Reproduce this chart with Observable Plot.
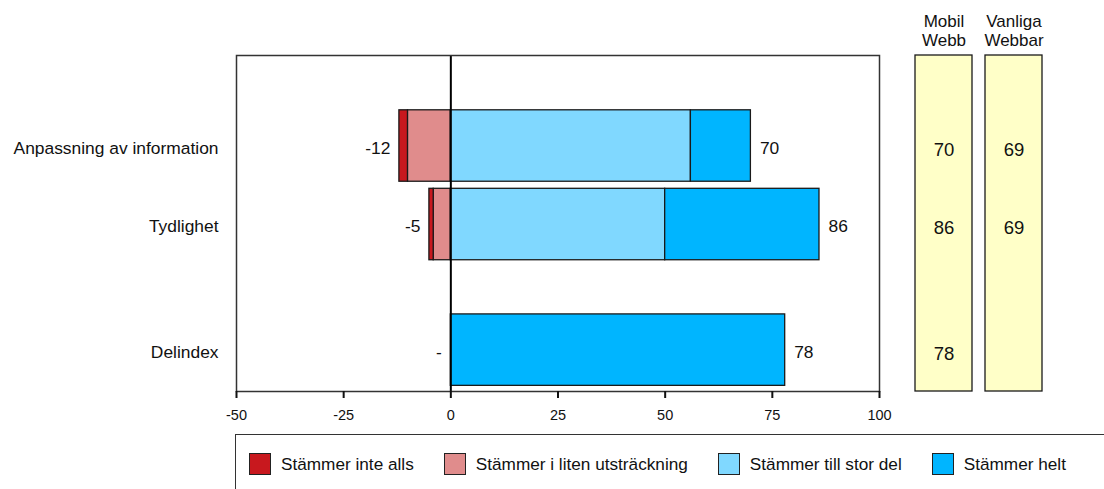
<!DOCTYPE html>
<html lang="sv">
<head>
<meta charset="utf-8">
<script src="https://cdn.jsdelivr.net/npm/d3@7"></script>
<script src="https://cdn.jsdelivr.net/npm/@observablehq/plot@0.6"></script>
<style>
  html, body { margin: 0; padding: 0; background: #fff; overflow: hidden; }
  body { width: 1104px; height: 489px; position: relative; font-family: "Liberation Sans", Arial, sans-serif; color: #111; }
  #main, #side { position: absolute; top: 0; }
  #main { left: 0; }
  #side { left: 900px; }
  #main g[aria-label="x-axis tick label"], #main g[aria-label="x-axis tick label"] text { font-size: 14.5px !important; }
  #legend {
    position: absolute; left: 235px; top: 434px; width: 1000px; height: 80px;
    border-top: 1.5px solid #333; border-left: 1.5px solid #333;
    display: flex; flex-direction: row; align-items: flex-start;
    padding: 18px 0 0 13px; box-sizing: border-box;
  }
  .item { display: flex; align-items: center; margin-right: 30px; font-size: 17.2px; height: 22px; white-space: nowrap; }
  .sw { width: 22px; height: 22px; box-sizing: border-box; border: 1.5px solid #222; margin-right: 10px; flex: none; }
</style>
</head>
<body>
<div id="main"></div>
<div id="side"></div>
<div id="legend"></div>
<script>
// Questions (rows) and answer shares in percent
const rows = ["Anpassning av information", "Tydlighet", "Delindex"];
const inteAlls = [2, 1, 0];          // Stämmer inte alls
const litenUtstr = [10, 4, 0];       // Stämmer i liten utsträckning
const tillStorDel = [56, 50, 0];     // Stämmer till stor del
const helt = [14, 36, 78];           // Stämmer helt

// Comparison columns on the right
const compColumns = ["Mobil Webb", "Vanliga Webbar"];
const mobilWebb = [70, 86, 78];
const vanligaWebbar = [69, 69, null];

const xTicks = [-50, -25, 0, 25, 50, 75, 100];

const seriesNames = ["Stämmer inte alls", "Stämmer i liten utsträckning", "Stämmer till stor del", "Stämmer helt"];
const seriesColors = ["#C8181E", "#E08C8C", "#80D8FF", "#00B5FF"];

const font = {fontFamily: "'Liberation Sans', Arial, sans-serif", fontSize: "17px", color: "#111", background: "transparent"};

// Row layout: the summary row sits a bit further down
const rowPos = rows.map((r, i) => (r === "Delindex" ? i + 0.6 : i));
const half = 0.455;
const yDomain = [-1.153, 3.127];

// Diverging stacked segments
const segments = [];
rows.forEach((r, i) => {
  const y = rowPos[i];
  const parts = [
    {s: 1, x1: 0, x2: -litenUtstr[i]},
    {s: 0, x1: -litenUtstr[i], x2: -(litenUtstr[i] + inteAlls[i])},
    {s: 2, x1: 0, x2: tillStorDel[i]},
    {s: 3, x1: tillStorDel[i], x2: tillStorDel[i] + helt[i]}
  ];
  for (const p of parts) {
    if (p.x1 !== p.x2) segments.push({row: r, y1: y - half, y2: y + half, x1: p.x1, x2: p.x2, color: seriesColors[p.s]});
  }
});

const negTotals = rows.map((r, i) => ({
  y: rowPos[i],
  x: -(inteAlls[i] + litenUtstr[i]),
  label: inteAlls[i] + litenUtstr[i] === 0 ? "-" : String(-(inteAlls[i] + litenUtstr[i]))
}));
const posTotals = rows.map((r, i) => ({
  y: rowPos[i],
  x: tillStorDel[i] + helt[i],
  label: String(tillStorDel[i] + helt[i])
}));

const main = Plot.plot({
  width: 900,
  height: 430,
  marginLeft: 236,
  marginRight: 21,
  marginTop: 55,
  marginBottom: 39,
  style: font,
  x: {domain: [-50, 100]},
  y: {domain: yDomain, reverse: true},
  marks: [
    Plot.rectX(segments, {x1: "x1", x2: "x2", y1: "y1", y2: "y2", fill: "color", stroke: "#1a1a1a", strokeWidth: 1.3}),
    Plot.ruleX([0], {stroke: "#000", strokeWidth: 2}),
    Plot.frame({stroke: "#333", strokeWidth: 1.5}),
    Plot.text(negTotals, {x: "x", y: "y", text: "label", textAnchor: "end", dx: -9, dy: 2, fontSize: 17.4}),
    Plot.text(posTotals, {x: "x", y: "y", text: "label", textAnchor: "start", dx: 9, dy: 2, fontSize: 17.4}),
    Plot.axisX({ticks: xTicks, tickSize: 7, tickPadding: 11, fontSize: 14.5, label: null,
      tickFormat: d => String(d), stroke: "#111", strokeWidth: 2}),
    Plot.axisY({ticks: rowPos, tickSize: 0, tickPadding: 18, fontSize: 17.4, dy: 2, label: null,
      tickFormat: p => rows[rowPos.indexOf(p)]})
  ]
});
document.getElementById("main").appendChild(main);

// Comparison panels
const compCells = [];
rows.forEach((r, i) => {
  if (mobilWebb[i] != null) compCells.push({col: compColumns[0], y: rowPos[i], v: mobilWebb[i]});
  if (vanligaWebbar[i] != null) compCells.push({col: compColumns[1], y: rowPos[i], v: vanligaWebbar[i]});
});

const side = Plot.plot({
  width: 204,
  height: 430,
  marginLeft: 14,
  marginRight: 61,
  marginTop: 55,
  marginBottom: 39,
  style: font,
  x: {domain: compColumns, paddingInner: 0.183, paddingOuter: 0, axis: null},
  y: {domain: yDomain, reverse: true, axis: null},
  marks: [
    Plot.barY(compColumns, {x: d => d, y1: yDomain[0], y2: yDomain[1], fill: "#FFFFC8", stroke: "#1a1a1a", strokeWidth: 1.3}),
    Plot.text(compCells, {x: "col", y: "y", text: d => String(d.v), dy: 4, fontSize: 18.5}),
    Plot.axisX({anchor: "top", tickSize: 0, tickPadding: 10, lineHeight: 1.06, fontSize: 17, label: null,
      tickFormat: d => d.replace(" ", "\n")})
  ]
});
document.getElementById("side").appendChild(side);

// Legend
const legend = document.getElementById("legend");
seriesNames.forEach((name, i) => {
  const item = document.createElement("div");
  item.className = "item";
  const sw = document.createElement("div");
  sw.className = "sw";
  sw.style.background = seriesColors[i];
  const label = document.createElement("span");
  label.textContent = name;
  item.appendChild(sw);
  item.appendChild(label);
  legend.appendChild(item);
});
</script>
</body>
</html>
